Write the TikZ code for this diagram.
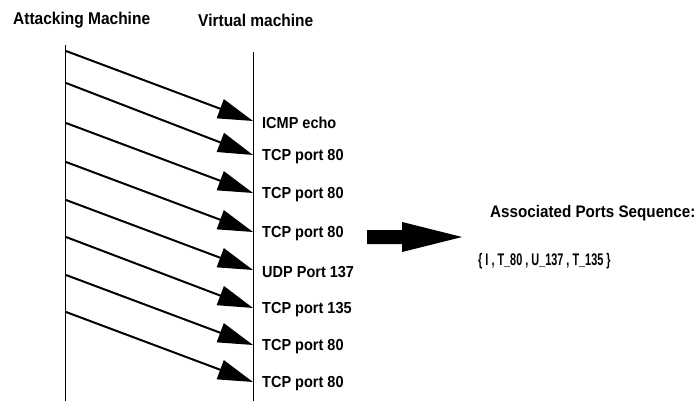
\documentclass[tikz,border=0pt]{standalone}
\usepackage{fontspec}
\setmainfont{Liberation Sans}
\usetikzlibrary{arrows.meta}
\newcommand{\tallbox}[2][1]{\scalebox{#1}[1.1]{#2}}
\begin{document}
\begin{tikzpicture}[x=1pt,y=-1pt,
  lbl/.style={font=\fontsize{14.5}{16}\selectfont\bfseries, inner sep=0pt},
  hdr/.style={font=\fontsize{15.5}{17}\selectfont\bfseries, inner sep=0pt},
  msg/.style={line width=2pt, -{Triangle[length=35pt,width=20pt]}},
  life/.style={line width=0.8pt}]
\useasboundingbox (0,0) rectangle (698,401);
% headers
\node[hdr, anchor=west] (hA) at (13,20) {\tallbox{Attacking Machine}};
\node[hdr, anchor=west] (hV) at (198,20) {\tallbox{Virtual machine}};
% lifelines
\coordinate (Atop) at (65,45);
\coordinate (Abot) at (65,401);
\coordinate (Vtop) at (253,52);
\coordinate (Vbot) at (253,401);
\draw[life] (Atop) -- (Abot);
\draw[life] (Vtop) -- (Vbot);
% messages
\foreach \i/\ys/\yt/\txt in {1/51/121/ICMP echo, 2/83/155/TCP port 80, 3/123/193/TCP port 80,
  4/162/232/TCP port 80, 5/200/270/UDP Port 137, 6/237/308/TCP port 135,
  7/275/345/TCP port 80, 8/312/382/TCP port 80}{
  \coordinate (s\i) at (66,\ys);
  \coordinate (t\i) at (253,\yt);
  \draw[msg] (s\i) -- (t\i);
  \node[lbl, anchor=west] (l\i) at (262,\yt+2) {\tallbox{\txt}};
}
% big block arrow
\coordinate (bA) at (367,237);
\coordinate (bB) at (462,237);
\fill (367,230) -- (402,230) -- (402,222) -- (bB) -- (402,252) -- (402,244) -- (367,244) -- cycle;
% result text
\node[lbl, font=\fontsize{15.2}{17}\selectfont\bfseries, anchor=west] (aps) at (490,213) {\tallbox{Associated Ports Sequence:}};
\node[lbl, font=\fontsize{16}{18}\selectfont\bfseries, anchor=west] (seq) at (478,261) {\scalebox{0.68}[1.05]{\{ I , T\_80 , U\_137 , T\_135 \}}};
\end{tikzpicture}
\end{document}
